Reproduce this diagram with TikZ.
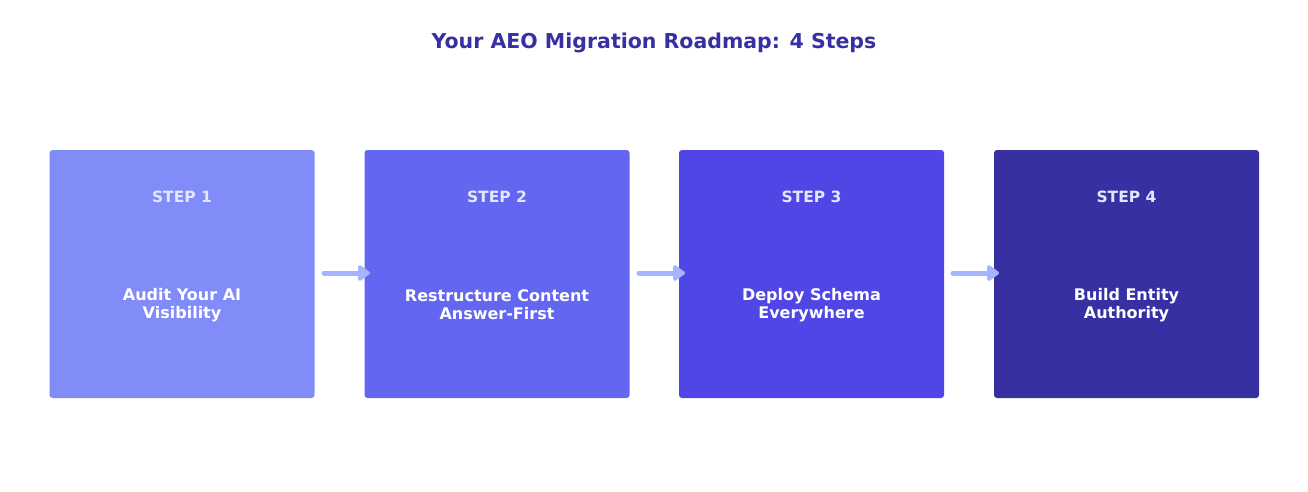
\documentclass[tikz,border=0pt]{standalone}
\usepackage{fontspec}
\setmainfont{DejaVu Sans}
\usetikzlibrary{arrows.meta}
\definecolor{c1}{HTML}{818CF8}
\definecolor{c2}{HTML}{6366F1}
\definecolor{c3}{HTML}{4F46E5}
\definecolor{c4}{HTML}{3730A3}
\definecolor{stepc}{HTML}{E0E7FF}
\definecolor{arr}{HTML}{A5B4FC}
\begin{document}
\begin{tikzpicture}[x=1pt,y=-1pt,
  box/.style={rounded corners=3pt,minimum width=265pt,minimum height=248pt,inner sep=0pt},
  steplab/.style={text=stepc,font=\bfseries\fontsize{15.5}{18}\selectfont},
  lab/.style={text=white,font=\bfseries\fontsize{16}{18}\selectfont,align=center},
  conn/.style={arr,line width=5pt,line cap=round,-{Triangle[length=13pt,width=18pt,round]}}]
\useasboundingbox (0,0) rectangle (1308,492);
\node[text=c4,font=\bfseries\fontsize{20.5}{24}\selectfont] (title) at (654,43) {Your AEO Migration Roadmap: 4 Steps};
\foreach \i/\x/\c/\a/\b in {1/182/c1/Audit Your AI/Visibility,2/497/c2/Restructure Content/Answer-First,3/811.5/c3/Deploy Schema/Everywhere,4/1126.5/c4/Build Entity/Authority}{
  \node[box,fill=\c] (b\i) at (\x,274) {};
  \node[steplab] (s\i) at (\x,197) {STEP \i};
  \node[lab] (l\i) at (\x,305) {\a\\\b};
}
\coordinate (a1) at (324,273); \coordinate (e1) at (370,273);
\coordinate (a2) at (639,273); \coordinate (e2) at (685,273);
\coordinate (a3) at (953,273); \coordinate (e3) at (999,273);
\draw[conn] (a1) -- (e1);
\draw[conn] (a2) -- (e2);
\draw[conn] (a3) -- (e3);
\end{tikzpicture}
\end{document}
